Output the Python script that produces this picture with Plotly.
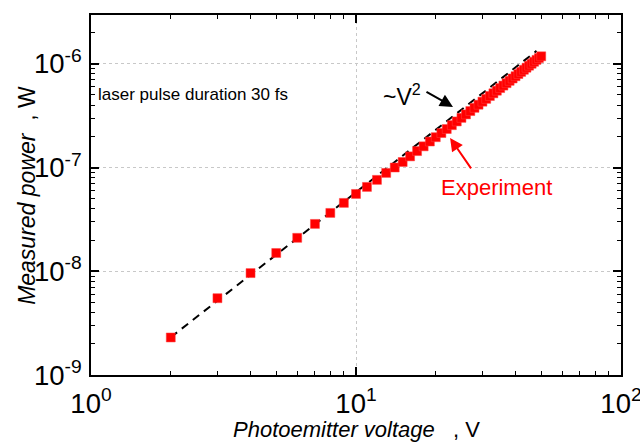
import plotly.graph_objects as go

# Experimental data: photoemitter voltage (V) and measured power (W)
voltage = list(range(2, 51))
power = [
    2.3e-9, 5.5e-9, 9.6e-9, 1.5e-8, 2.1e-8, 2.86e-8, 3.65e-8, 4.56e-8, 5.56e-8,
    6.5e-8, 7.6e-8, 8.87e-8, 1.0e-7, 1.13e-7, 1.28e-7, 1.44e-7, 1.60e-7, 1.78e-7,
    1.96e-7, 2.15e-7, 2.35e-7, 2.56e-7, 2.78e-7, 3.01e-7, 3.25e-7, 3.50e-7,
    3.76e-7, 4.03e-7, 4.31e-7, 4.59e-7, 4.89e-7, 5.19e-7, 5.50e-7, 5.83e-7,
    6.16e-7, 6.50e-7, 6.85e-7, 7.21e-7, 7.58e-7, 7.96e-7, 8.35e-7, 8.75e-7,
    9.16e-7, 9.58e-7, 1.00e-6, 1.045e-6, 1.09e-6, 1.135e-6, 1.18e-6,
]

# ~V^2 reference line endpoints
fit_v = [2, 48]
fit_p = [2.31e-9, 1.33e-6]

FONT = "Arial, Liberation Sans, sans-serif"

fig = go.Figure()
fig.add_trace(go.Scatter(
    x=fit_v, y=fit_p, mode="lines",
    line=dict(color="black", width=2, dash="8px,6px"),
    showlegend=False,
))
fig.add_trace(go.Scatter(
    x=voltage, y=power, mode="markers",
    marker=dict(symbol="square", size=9, color="#ff0000",
                line=dict(color="#ff4040", width=0.5)),
    showlegend=False,
))

axis_common = dict(
    type="log", showline=True, linecolor="black", linewidth=1.8,
    mirror="allticks", ticks="inside", ticklen=8, tickwidth=1.5, tickcolor="black",
    dtick=1, exponentformat="power", ticklabeloverflow="allow", automargin=False,
    showgrid=True, gridcolor="#c8c8c8", griddash="3px,3px", gridwidth=1,
    zeroline=False,
    tickfont=dict(family=FONT, size=22, color="black"),
    minor=dict(ticks="inside", ticklen=4, tickwidth=1.2, tickcolor="black", showgrid=False),
)

fig.update_xaxes(
    **axis_common,
    range=[0, 2],
    ticklabelstandoff=4,
    labelalias={"1": "10<sup>0</sup>", "10": "10<sup>1</sup>"},
)
fig.update_yaxes(
    **axis_common,
    range=[-9, -5.53],
    ticklabelstandoff=3,
    labelalias={
        "10<sup>\u22129</sup>": "10<sup>-9</sup>",
        "10<sup>\u22128</sup>": "10<sup>-8</sup>",
        "10<sup>\u22127</sup>": "10<sup>-7</sup>",
        "10<sup>\u22126</sup>": "10<sup>-6</sup>",
    },
)

annotations = [
    dict(x=0.5, y=-0.152, xref="paper", yref="paper",
         text="<i>Photoemitter voltage</i>   , V",
         showarrow=False, xanchor="center", yanchor="middle",
         font=dict(family=FONT, size=22, color="black")),
    dict(x=-0.121, y=0.5, xref="paper", yref="paper",
         text="<i>Measured power</i>  , W", textangle=-90,
         showarrow=False, xanchor="center", yanchor="middle",
         font=dict(family=FONT, size=23, color="black")),
    dict(x=0.02, y=-6.30, xref="x", yref="y", text="laser pulse duration 30 fs",
         showarrow=False, xanchor="left", yanchor="middle",
         font=dict(family=FONT, size=17, color="black")),
    dict(x=1.175, y=-6.30, xref="x", yref="y", text="~V<sup>2</sup>",
         showarrow=False, xanchor="center", yanchor="middle",
         font=dict(family=FONT, size=23, color="black")),
    dict(x=1.366, y=-6.416, xref="x", yref="y", text="", showarrow=True,
         ax=-28, ay=-16, axref="pixel", ayref="pixel",
         arrowhead=2, arrowsize=1.3, arrowwidth=2, arrowcolor="black"),
    dict(x=1.532, y=-7.197, xref="x", yref="y", text="Experiment",
         showarrow=False, xanchor="center", yanchor="middle",
         font=dict(family=FONT, size=22, color="#ff0000")),
    dict(x=1.355, y=-6.715, xref="x", yref="y", text="", showarrow=True,
         ax=22, ay=32, axref="pixel", ayref="pixel",
         arrowhead=2, arrowsize=1.3, arrowwidth=2, arrowcolor="#ff0000"),
]

fig.update_layout(
    width=640, height=443,
    margin=dict(l=91, r=19, t=15, b=68, autoexpand=False),
    paper_bgcolor="white", plot_bgcolor="white",
    annotations=annotations,
    font=dict(family=FONT, color="black"),
)

fig.write_html("out.html")
